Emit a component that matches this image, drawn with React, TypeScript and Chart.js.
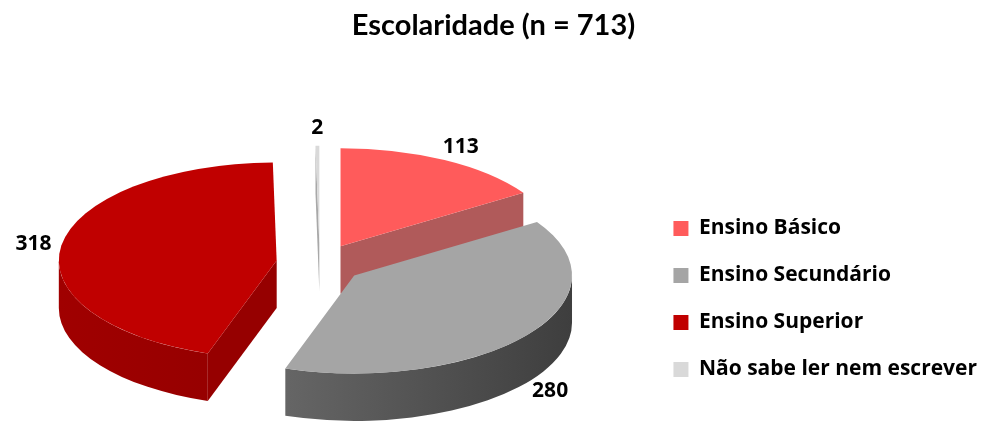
import React, { useEffect, useRef } from "react";
import { Chart, registerables } from "chart.js";

Chart.register(...registerables);

const chartTitle = "Escolaridade (n = 713)";
const categories = [
  "Ensino Básico",
  "Ensino Secundário",
  "Ensino Superior",
  "Não sabe ler nem escrever",
];
const counts = [113, 280, 318, 2];
const sliceColors = ["#FF5B5B", "#A5A5A5", "#C00000", "#D9D9D9"];
const cutFaceColors = ["#B05A5A", "#6E6E6E", "#960000", "#A8A8A8"];
const wallLight = ["#C04848", "#7A7A7A", "#A00000", "#B0B0B0"];
const wallDark = ["#902A2A", "#3E3E3E", "#850000", "#808080"];

// 3D look (style constants, relative to the radius the library computes)
const SCALE_X = 1.4;
const SCALE_Y = 0.63;
const EXPLODE = 0.2;
const DEPTH = 0.305;
const SHIFT_X = -4;
const SHIFT_Y = 13;
const LABEL_GAP = 10;
const TITLE_FONT = "Lato, 'Open Sans', sans-serif";
const FONT = "'Open Sans', Lato, sans-serif";

const pie3d = {
  id: "pie3d",
  beforeDatasetsDraw(chart: any) {
    const ctx: CanvasRenderingContext2D = chart.ctx;
    const meta = chart.getDatasetMeta(0);
    const items = meta.data.map((arc: any, i: number) => {
      const p = arc.getProps(["x", "y", "startAngle", "endAngle", "outerRadius"], true);
      const R = p.outerRadius;
      const rx = R * SCALE_X;
      const ry = R * SCALE_Y;
      const mid = (p.startAngle + p.endAngle) / 2;
      const cx = p.x + SHIFT_X + EXPLODE * rx * Math.cos(mid);
      const cy = p.y + SHIFT_Y + EXPLODE * ry * Math.sin(mid);
      return { arc, i, x: p.x, y: p.y, R, rx, ry, cx, cy, s: p.startAngle, e: p.endAngle, mid, d: DEPTH * R };
    });
    const order = [...items].sort(
      (a: any, b: any) => a.cy + a.ry * 0.5 * Math.sin(a.mid) - (b.cy + b.ry * 0.5 * Math.sin(b.mid))
    );
    for (const it of order) {
      const { cx, cy, rx, ry, d, s, e } = it;
      // outer wall (front-facing part)
      const a0 = Math.max(s, 0);
      const a1 = Math.min(e, Math.PI);
      if (a1 > a0) {
        ctx.save();
        const g = ctx.createLinearGradient(cx - rx, 0, cx + rx, 0);
        g.addColorStop(0, wallLight[it.i]);
        g.addColorStop(1, wallDark[it.i]);
        ctx.fillStyle = g;
        ctx.beginPath();
        ctx.ellipse(cx, cy, rx, ry, 0, a0, a1, false);
        ctx.ellipse(cx, cy + d, rx, ry, 0, a1, a0, true);
        ctx.closePath();
        ctx.fill();
        ctx.restore();
      }
      // cut faces
      const faces = [
        { ang: s, normal: s - Math.PI / 2 },
        { ang: e, normal: e + Math.PI / 2 },
      ];
      for (const f of faces) {
        if (Math.sin(f.normal) > 0.01) {
          const px = cx + rx * Math.cos(f.ang);
          const py = cy + ry * Math.sin(f.ang);
          ctx.save();
          ctx.fillStyle = cutFaceColors[it.i];
          ctx.beginPath();
          ctx.moveTo(cx, cy);
          ctx.lineTo(px, py);
          ctx.lineTo(px, py + d);
          ctx.lineTo(cx, cy + d);
          ctx.closePath();
          ctx.fill();
          ctx.restore();
        }
      }
      // top face drawn by the library's arc element, squashed
      ctx.save();
      ctx.translate(cx, cy);
      ctx.scale(SCALE_X, SCALE_Y);
      ctx.translate(-it.x, -it.y);
      it.arc.draw(ctx);
      ctx.restore();
    }
    // value labels
    ctx.save();
    ctx.font = `bold 21px ${FONT}`;
    ctx.fillStyle = "#000";
    ctx.textAlign = "center";
    ctx.textBaseline = "middle";
    for (const it of items) {
      const c = Math.cos(it.mid);
      const sn = Math.sin(it.mid);
      const vx = it.rx * c;
      const vy = it.ry * sn;
      const len = Math.hypot(vx, vy) || 1;
      const txt = String(counts[it.i]);
      const w = ctx.measureText(txt).width;
      const h = 16;
      const lx = it.cx + vx + (vx / len) * LABEL_GAP + c * (w / 2);
      const ly = it.cy + vy + (sn > 0 ? it.d : 0) + (vy / len) * LABEL_GAP + sn * (h / 2);
      ctx.fillText(txt, lx, ly);
    }
    ctx.restore();
    return false;
  },
};

export default function App() {
  const ref = useRef<HTMLCanvasElement | null>(null);
  useEffect(() => {
    if (!ref.current) return;
    const chart = new Chart(ref.current, {
      type: "pie",
      data: {
        labels: categories,
        datasets: [
          {
            data: counts,
            backgroundColor: sliceColors,
            borderWidth: 0,
            offset: 0,
          },
        ],
      },
      options: {
        animation: false,
        responsive: true,
        maintainAspectRatio: false,
        layout: { padding: { left: 0, right: 0, top: 0, bottom: 15 } },
        plugins: {
          title: {
            display: true,
            text: chartTitle,
            color: "#000",
            font: { family: TITLE_FONT, size: 29, weight: "bold" },
            padding: { top: 8, bottom: 52 },
          },
          legend: {
            position: "right",
            align: "end",
            labels: {
              boxWidth: 15,
              boxHeight: 15,
              padding: 26,
              color: "#000",
              font: { family: FONT, size: 21, weight: "bold" },
            },
          },
          tooltip: { enabled: false },
        },
      } as any,
      plugins: [pie3d as any],
    });
    return () => chart.destroy();
  }, []);
  return (
    <div style={{ position: "fixed", left: 0, top: 0, width: 987, height: 421, background: "#fff" }}>
      <canvas ref={ref} />
    </div>
  );
}
